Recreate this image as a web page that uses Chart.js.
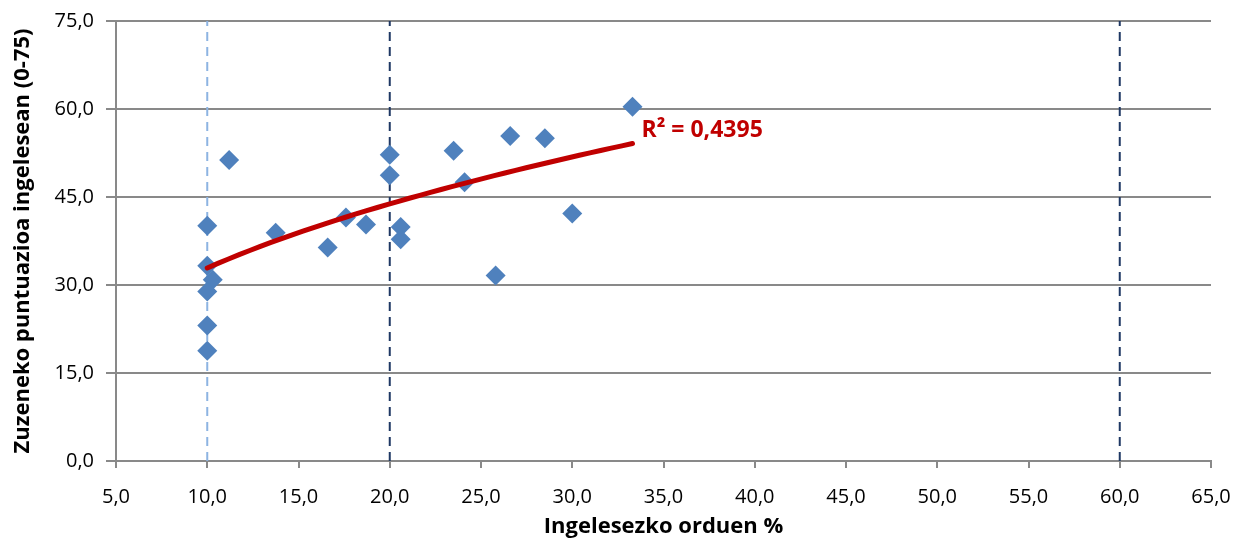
<!DOCTYPE html>
<html>
<head>
<meta charset="utf-8">
<script src="https://cdn.jsdelivr.net/npm/chart.js@4/dist/chart.umd.min.js"></script>
<style>
  html, body { margin: 0; padding: 0; background: #ffffff; }
  #wrap { width: 1234px; height: 540px; }
</style>
</head>
<body>
<div id="wrap"><canvas id="chart" width="1234" height="540"></canvas></div>
<script>
// Ingelesezko orduen % (x) eta zuzeneko puntuazioa (y)
const hoursPct = [10, 11.2, 20, 20, 10, 10.3, 10, 10, 10, 13.75, 16.6, 17.6, 18.7, 20.6, 20.6, 23.5, 24.1, 25.8, 26.6, 28.5, 30.0, 33.3];
const scores   = [40.1, 51.3, 52.2, 48.7, 33.3, 30.9, 28.9, 23.1, 18.8, 38.9, 36.4, 41.5, 40.3, 39.9, 37.8, 52.9, 47.5, 31.6, 55.4, 55.0, 42.2, 60.4];

// Marra etenak
const lightLineX = [10];
const darkLinesX = [20, 60];

const xTicks = [5, 10, 15, 20, 25, 30, 35, 40, 45, 50, 55, 60, 65];
const yTicks = [0, 15, 30, 45, 60, 75];

// Joera-lerroa (potentziala, y = c * x^p), iruditik irakurrita
const trendCoef = 12.70;
const trendExp = 0.4135;
const r2Label = "R² = 0,4395";

const fmt = v => v.toFixed(1).replace(".", ",");
const FONT = "'Open Sans', 'DejaVu Sans', sans-serif";

const xMin = Math.min(...hoursPct), xMax = Math.max(...hoursPct);
const trendPts = [];
for (let i = 0; i <= 40; i++) {
    const x = xMin + (xMax - xMin) * i / 40;
    trendPts.push({ x, y: trendCoef * Math.pow(x, trendExp) });
}

const vline = x => [{ x, y: yTicks[0] }, { x, y: yTicks[yTicks.length - 1] }];

const r2Plugin = {
    id: "r2",
    afterDatasetsDraw(chart) {
        const last = trendPts[trendPts.length - 1];
        const px = chart.scales.x.getPixelForValue(last.x);
        const py = chart.scales.y.getPixelForValue(last.y);
        const ctx = chart.ctx;
        ctx.save();
        ctx.font = "bold 23px " + FONT;
        ctx.fillStyle = "#C00000";
        ctx.textAlign = "left";
        ctx.textBaseline = "middle";
        ctx.fillText(r2Label, px + 9, py - 13);
        ctx.restore();
    }
};

const gray = "#898989";

new Chart(document.getElementById("chart").getContext("2d"), {
    type: "scatter",
    data: {
        datasets: [
            {
                label: "lerro argia",
                data: lightLineX.flatMap(x => vline(x)),
                showLine: true,
                borderColor: "#8DB4E2",
                borderWidth: 2,
                borderDash: [9, 6],
                pointRadius: 0,
                order: 3
            },
            ...darkLinesX.map(x => ({
                label: "lerro iluna " + x,
                data: vline(x),
                showLine: true,
                borderColor: "#1F3864",
                borderWidth: 2,
                borderDash: [9, 6],
                pointRadius: 0,
                order: 3
            })),
            {
                label: "datuak",
                data: hoursPct.map((x, i) => ({ x, y: scores[i] })),
                pointStyle: "rectRot",
                pointRadius: 10,
                pointHoverRadius: 10,
                backgroundColor: "#4F81BD",
                borderColor: "#4F81BD",
                borderWidth: 0,
                order: 2
            },
            {
                label: "joera",
                data: trendPts,
                showLine: true,
                borderColor: "#C00000",
                borderWidth: 5,
                borderCapStyle: "round",
                pointRadius: 0,
                order: 1
            }
        ]
    },
    options: {
        responsive: false,
        animation: false,
        layout: { padding: { left: 10, right: 23, top: 21, bottom: 0 } },
        plugins: {
            legend: { display: false },
            tooltip: { enabled: false }
        },
        scales: {
            x: {
                type: "linear",
                min: xTicks[0],
                max: xTicks[xTicks.length - 1],
                afterBuildTicks: axis => { axis.ticks = xTicks.map(v => ({ value: v })); },
                ticks: {
                    color: "#000000",
                    font: { family: FONT, size: 20 },
                    padding: 17,
                    maxRotation: 0,
                    callback: v => fmt(v)
                },
                grid: { drawOnChartArea: false, drawTicks: true, tickLength: 7, color: gray, lineWidth: 2 },
                border: { color: gray, width: 2 },
                title: {
                    display: true,
                    text: "Ingelesezko orduen %",
                    color: "#000000",
                    font: { family: FONT, size: 22, weight: "bold" },
                    padding: { top: 0, bottom: 0 }
                },
                afterFit: axis => {
                    axis.height = 79;
                    axis.paddingLeft = 0;
                    axis.paddingRight = 0;
                }
            },
            y: {
                type: "linear",
                min: yTicks[0],
                max: yTicks[yTicks.length - 1],
                afterBuildTicks: axis => { axis.ticks = yTicks.map(v => ({ value: v })); },
                ticks: {
                    color: "#000000",
                    font: { family: FONT, size: 20 },
                    padding: 12,
                    callback: v => fmt(v)
                },
                grid: { color: gray, lineWidth: 2, tickLength: 10 },
                border: { color: gray, width: 2 },
                title: {
                    display: true,
                    text: "Zuzeneko puntuazioa ingelesean (0-75)",
                    color: "#000000",
                    font: { family: FONT, size: 22, weight: "bold" },
                    padding: { top: 0, bottom: 8 }
                },
                afterFit: axis => {
                    axis.width = 106;
                    axis.paddingTop = 0;
                    axis.paddingBottom = 0;
                }
            }
        }
    },
    plugins: [r2Plugin]
});
</script>
</body>
</html>
